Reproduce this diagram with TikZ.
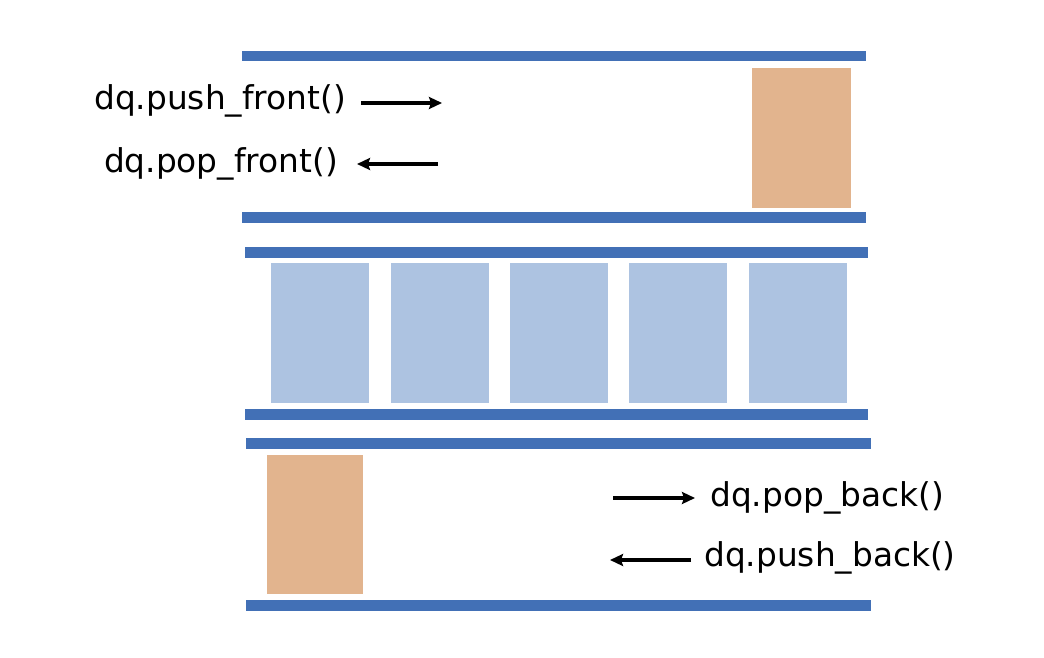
\documentclass[tikz,border=0pt]{standalone}
\usepackage{fontspec}
\setmainfont{DejaVu Sans}
\usetikzlibrary{arrows.meta}
\definecolor{barblue}{HTML}{4270B6}
\definecolor{cellblue}{HTML}{ADC3E1}
\definecolor{cellorange}{HTML}{E2B48E}
\tikzset{
  bar/.style={fill=barblue, draw=none},
  cell/.style={fill=cellblue, draw=none},
  ocell/.style={fill=cellorange, draw=none},
  lbl/.style={inner sep=0pt, font=\fontsize{32.8}{38}\selectfont},
  arr/.style={line width=3.2pt, -{Stealth[length=13pt,width=12pt,inset=2pt]}}
}
\begin{document}
\begin{tikzpicture}[x=1pt,y=-1pt]
\useasboundingbox (0,0) rectangle (1044,658);
% top deque
\fill[bar] (242,51) rectangle (866,61);
\fill[bar] (242,212) rectangle (866,223);
\fill[ocell] (752,68) rectangle (851,208);
% middle deque
\fill[bar] (245,247) rectangle (868,258);
\fill[bar] (245,409) rectangle (868,420);
\foreach \x in {271,391,510,629,749}{
  \fill[cell] (\x,263) rectangle ++(98,140);
}
% bottom deque
\fill[bar] (246,438) rectangle (871,449);
\fill[bar] (246,600) rectangle (871,611);
\fill[ocell] (267,455) rectangle (363,594);
% labels
\node[lbl, anchor=east] (pf) at (346,101) {dq.push\_front()};
\node[lbl, anchor=east] (pof) at (338,164) {dq.pop\_front()};
\node[lbl, anchor=west] (pob) at (710,498) {dq.pop\_back()};
\node[lbl, anchor=west] (pb) at (704,558) {dq.push\_back()};
\coordinate (pfstart) at (361,103);
\coordinate (pfend) at (442,103);
\coordinate (pofstart) at (438,164);
\coordinate (pofend) at (357,164);
\coordinate (pobstart) at (613,498);
\coordinate (pobend) at (695,498);
\coordinate (pbstart) at (691,560);
\coordinate (pbend) at (610,560);
\draw[arr] (pfstart) -- (pfend);
\draw[arr] (pofstart) -- (pofend);
\draw[arr] (pobstart) -- (pobend);
\draw[arr] (pbstart) -- (pbend);
\end{tikzpicture}
\end{document}
